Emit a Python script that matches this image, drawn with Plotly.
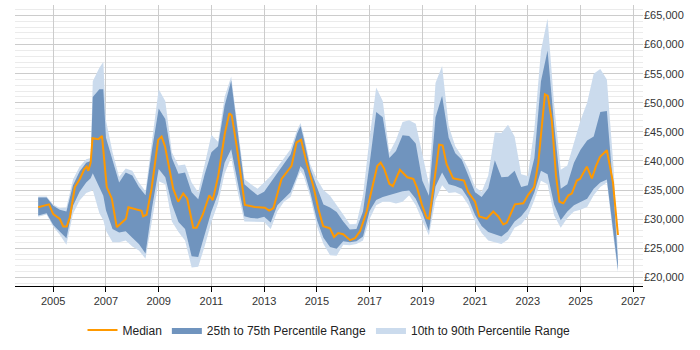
import plotly.graph_objects as go

# ---- data ----
band_t = [2004.43, 2004.75, 2005.0, 2005.25, 2005.5, 2005.75, 2006.0, 2006.25, 2006.42, 2006.5,
          2006.75, 2006.9, 2007.0, 2007.25, 2007.5, 2007.75, 2008.0, 2008.25, 2008.5, 2008.75,
          2009.0, 2009.25, 2009.5, 2009.75, 2010.0, 2010.25, 2010.5, 2010.75, 2011.0, 2011.25,
          2011.5, 2011.75, 2012.0, 2012.25, 2012.5, 2012.75, 2013.0, 2013.25, 2013.5, 2013.75,
          2014.0, 2014.25, 2014.38, 2014.5, 2014.75, 2015.0, 2015.25, 2015.5, 2015.75, 2016.0,
          2016.25, 2016.5, 2016.75, 2017.0, 2017.25, 2017.5, 2017.75, 2018.0, 2018.25, 2018.5,
          2018.75, 2019.0, 2019.25, 2019.5, 2019.75, 2020.0, 2020.25, 2020.5, 2020.75, 2021.0,
          2021.25, 2021.5, 2021.75, 2022.0, 2022.25, 2022.5, 2022.75, 2023.0, 2023.25, 2023.5,
          2023.75, 2024.0, 2024.25, 2024.5, 2024.75, 2025.0, 2025.25, 2025.5, 2025.75, 2026.0,
          2026.25, 2026.42]

p90 = [33900, 33900, 32500, 31900, 32000, 36800, 39000, 40300, 40500, 53700,
       56000, 57000, 47000, 41500, 37300, 38700, 38300, 36300, 34800, 44000,
       52300, 50300, 41500, 39200, 39400, 36300, 34600, 39500, 44500, 43300,
       51000, 54500, 45600, 36900, 36000, 35200, 36300, 37400, 38900, 40500,
       42000, 45300, 46500, 44500, 39400, 36900, 35000, 34000, 32500, 30800,
       29100, 29200, 34100, 44000, 52600, 50300, 41400, 43600, 46700, 47000,
       46400, 41400, 36000, 53400, 56300, 46000, 42500, 40800, 38600, 35500,
       34700, 37500, 44900, 44800, 46200, 44200, 37700, 37400, 45500, 59000,
       64500, 49700, 38500, 39200, 43000, 47000, 50000, 55000, 55800, 54000,
       39100, 24000]

p75 = [33720, 33720, 32300, 31600, 31300, 35800, 38200, 39700, 40000, 51000,
       52300, 52300, 44000, 40000, 36300, 38000, 37500, 35500, 34100, 42000,
       49000, 47200, 40500, 37800, 38000, 34600, 33400, 37800, 41500, 42500,
       49500, 53800, 44700, 36000, 35000, 34100, 34700, 36300, 38000, 39700,
       41100, 44700, 46000, 43900, 38600, 35500, 32500, 32000, 31200, 29600,
       28200, 28300, 31300, 39500, 48400, 47500, 40500, 41700, 44400, 44300,
       43000, 36600, 34000, 47500, 51200, 44000, 41300, 40200, 37400, 34600,
       33800, 35300, 40100, 37200, 37300, 38300, 35500, 35800, 40500, 53700,
       59000, 46200, 35200, 36000, 39700, 41900, 43500, 44200, 48400, 48600,
       34700, 22500]

p25 = [30630, 31000, 29000, 27900, 26700, 32300, 34700, 36300, 37000, 37900,
       35500, 34000, 31500, 28300, 27700, 27900, 26800, 25700, 24100, 32000,
       38600, 37200, 32600, 29500, 28300, 23600, 23500, 27200, 31300, 34300,
       39700, 42000, 36300, 30500, 30200, 30100, 30400, 29400, 32400, 33500,
       34600, 37400, 39100, 38500, 34600, 29900, 26800, 25200, 24900, 26200,
       26000, 26200, 27000, 31400, 33300, 33800, 34100, 34400, 34800, 34900,
       33500, 31000, 28000, 35600, 38000, 36000, 35700, 35200, 33500, 30700,
       28800, 27800, 27400, 27000, 27900, 29600, 30500, 31900, 34600, 38300,
       37700, 32500, 29800, 31300, 32400, 33000, 33500, 35200, 36300, 36800,
       27900, 21300]

p10 = [30400, 30800, 28700, 27300, 25600, 30900, 33200, 34500, 34800, 35000,
       31000, 29800, 28000, 26000, 26000, 26300, 25300, 24600, 23200, 29800,
       36500, 36000, 29600, 27800, 26300, 21700, 21800, 25400, 29500, 32700,
       37800, 40600, 34600, 29600, 29600, 29600, 29500, 28300, 31300, 33000,
       33800, 36900, 38300, 37400, 33800, 28800, 25700, 23800, 23700, 25600,
       25500, 25700, 26300, 30000, 32400, 33000, 33000, 32700, 33000, 34100,
       32400, 29700, 27200, 33300, 35800, 34500, 34600, 34100, 32400, 29600,
       27600, 26300, 26000, 25700, 26500, 28500, 29100, 30500, 33300, 36600,
       36000, 30600, 28500, 30200, 31300, 31600, 32100, 34100, 35500, 36300,
       26800, 20800]

median_t = [2004.43, 2004.84, 2005.0, 2005.25, 2005.38, 2005.51, 2005.63, 2005.82, 2006.01, 2006.18,
            2006.27, 2006.33, 2006.42, 2006.49, 2006.71, 2006.85, 2007.03, 2007.22, 2007.41, 2007.76,
            2007.85, 2008.35, 2008.41, 2008.54, 2008.73, 2008.98, 2009.11, 2009.24, 2009.55, 2009.74,
            2009.93, 2010.08, 2010.31, 2010.44, 2010.67, 2010.92, 2011.05, 2011.26, 2011.51, 2011.68,
            2011.77, 2011.96, 2012.27, 2012.65, 2013.03, 2013.19, 2013.35, 2013.66, 2014.04, 2014.23,
            2014.40, 2014.61, 2014.86, 2015.05, 2015.24, 2015.50, 2015.65, 2015.81, 2016.00, 2016.26,
            2016.45, 2016.64, 2016.89, 2017.08, 2017.29, 2017.42, 2017.55, 2017.75, 2017.88, 2018.15,
            2018.43, 2018.66, 2018.81, 2018.98, 2019.17, 2019.26, 2019.48, 2019.64, 2019.77, 2019.92,
            2020.17, 2020.58, 2020.74, 2021.0, 2021.16, 2021.44, 2021.69, 2021.88, 2022.07, 2022.20,
            2022.51, 2022.83, 2023.02, 2023.24, 2023.40, 2023.53, 2023.65, 2023.76, 2023.91, 2024.07,
            2024.20, 2024.35, 2024.54, 2024.67, 2024.86, 2024.98, 2025.24, 2025.43, 2025.59, 2025.74,
            2026.0, 2026.23, 2026.42]

median = [32040, 32540, 30860, 30020, 28730, 28730, 30290, 35500, 36900, 38590,
          39020, 38300, 39700, 43890, 43720, 44290, 35500, 33550, 28610, 30070,
          32040, 31420, 30460, 30750, 35230, 43620, 44180, 42500, 35230, 32980,
          34390, 33550, 28510, 28510, 30750, 34100, 33260, 37460, 44730, 48210,
          47820, 42500, 32420, 32090, 31970, 31470, 31870, 36900, 39140, 43170,
          43620, 39700, 35780, 31870, 28780, 28400, 26930, 27600, 27390, 26380,
          26720, 27940, 31300, 35230, 39140, 39700, 38690, 36070, 35660, 38470,
          37180, 36900, 35230, 32540, 30190, 30070, 37460, 42780, 42670, 39430,
          37010, 36620, 34660, 32980, 30460, 30070, 31300, 30460, 29070, 29350,
          32540, 32710, 34220, 35500, 39700, 45860, 51450, 51170, 46980, 37460,
          32980, 32710, 34100, 34390, 36620, 36900, 39020, 37010, 39140, 40700,
          41830, 36340, 27270]

DARK = "#7094BE"
LIGHT = "#CBDBED"
ORANGE = "#FF9900"
FONT = "Liberation Sans, Arial, sans-serif"

fig = go.Figure()

fig.add_trace(go.Scatter(x=band_t, y=p10, mode="lines", line=dict(width=0, color=LIGHT),
                         showlegend=False, hoverinfo="skip"))
fig.add_trace(go.Scatter(x=band_t, y=p90, mode="lines", line=dict(width=0, color=LIGHT),
                         fill="tonexty", fillcolor=LIGHT, name="10th to 90th Percentile Range",
                         legendrank=3, hoverinfo="skip"))
fig.add_trace(go.Scatter(x=band_t, y=p25, mode="lines", line=dict(width=0, color=DARK),
                         showlegend=False, hoverinfo="skip"))
fig.add_trace(go.Scatter(x=band_t, y=p75, mode="lines", line=dict(width=0, color=DARK),
                         fill="tonexty", fillcolor=DARK, name="25th to 75th Percentile Range",
                         legendrank=2, hoverinfo="skip"))
fig.add_trace(go.Scatter(x=median_t, y=median, mode="lines", line=dict(width=2, color=ORANGE),
                         name="Median", legendrank=1, hoverinfo="skip"))

fig.update_layout(
    width=700, height=350,
    margin=dict(l=15, r=57, t=5, b=57),
    paper_bgcolor="white", plot_bgcolor="white",
    font=dict(family=FONT, size=11, color="#333333"),
    showlegend=True,
    legend=dict(orientation="h", x=0.5, xanchor="center", y=-0.105, yanchor="top",
                traceorder="normal",
                font=dict(family=FONT, size=12, color="#222222"), itemwidth=30),
    xaxis=dict(range=[2003.55, 2027.37], tick0=2005, dtick=2, tickformat="d",
               showgrid=True, gridcolor="#cccccc", gridwidth=1,
               showline=True, linecolor="#000000", linewidth=1,
               ticks="outside", ticklen=5, tickcolor="#000000",
               zeroline=False, fixedrange=True),
    yaxis=dict(range=[18500, 66800], side="right", dtick=5000, tick0=0,
               tickprefix="£", tickformat=",d",
               showgrid=True, gridcolor="#cccccc", gridwidth=1,
               minor=dict(dtick=1000, showgrid=True, gridcolor="#ebebeb", gridwidth=1),
               zeroline=False, showline=False, ticks="", fixedrange=True),
)

fig.write_html("out.html")
